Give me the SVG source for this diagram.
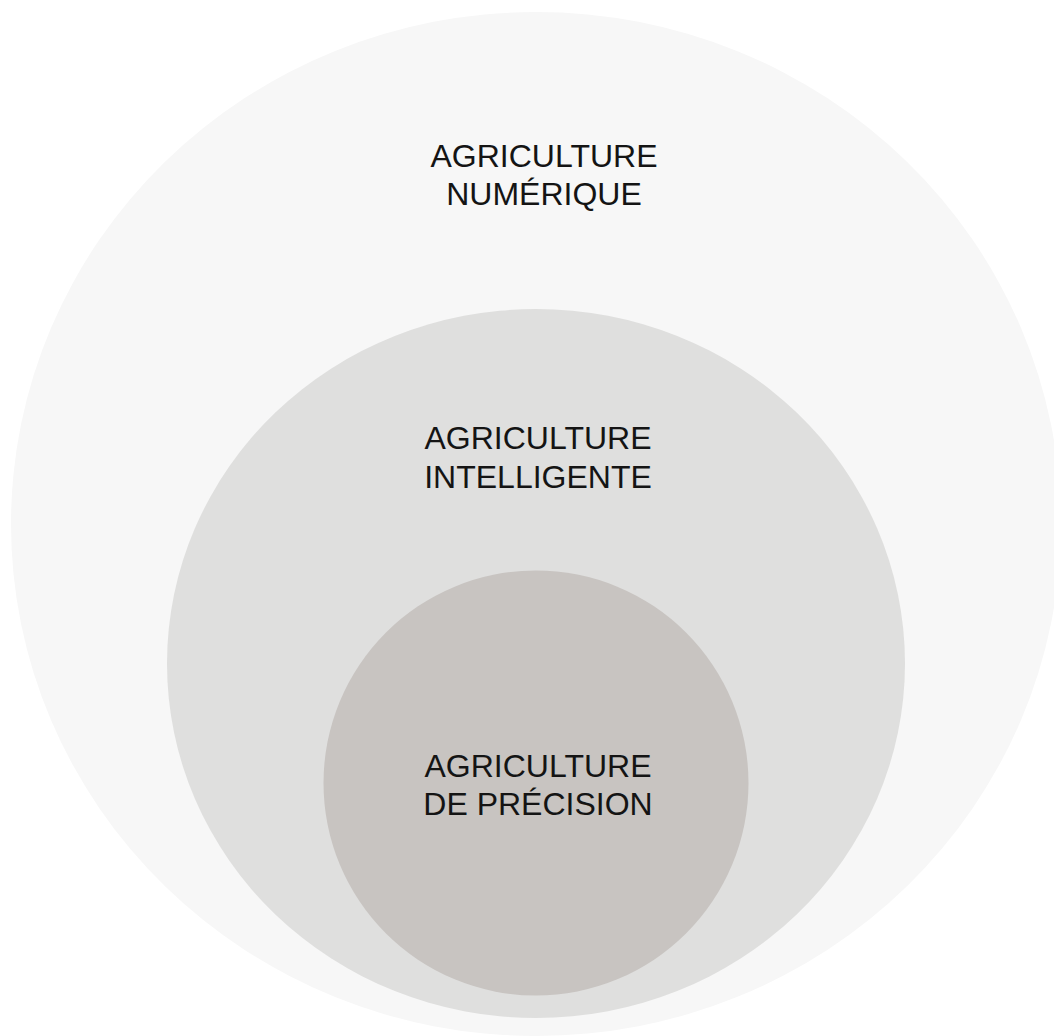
<svg xmlns="http://www.w3.org/2000/svg" width="1054" height="1036" viewBox="0 0 1054 1036">
<style>
.lbl{font-family:"Liberation Sans","Open Sans",Arial,sans-serif;font-size:32px;fill:#141414;text-anchor:middle}
</style>
<rect width="1054" height="1036" fill="#ffffff"/>
<g id="node-numerique">
<ellipse cx="536" cy="524" rx="525" ry="512" fill="#f7f7f7"/>
<text class="lbl" x="544" y="167">AGRICULTURE</text>
<text class="lbl" x="544" y="205">NUMÉRIQUE</text>
</g>
<g id="node-intelligente">
<ellipse cx="536" cy="663.5" rx="369" ry="354.5" fill="#dfdfde"/>
<text class="lbl" x="538" y="449">AGRICULTURE</text>
<text class="lbl" x="538" y="488">INTELLIGENTE</text>
</g>
<g id="node-precision">
<circle cx="536" cy="783" r="212.5" fill="#c8c4c1"/>
<text class="lbl" x="538" y="777">AGRICULTURE</text>
<text class="lbl" x="538" y="815">DE PRÉCISION</text>
</g>
<g id="connectors"></g>
</svg>
